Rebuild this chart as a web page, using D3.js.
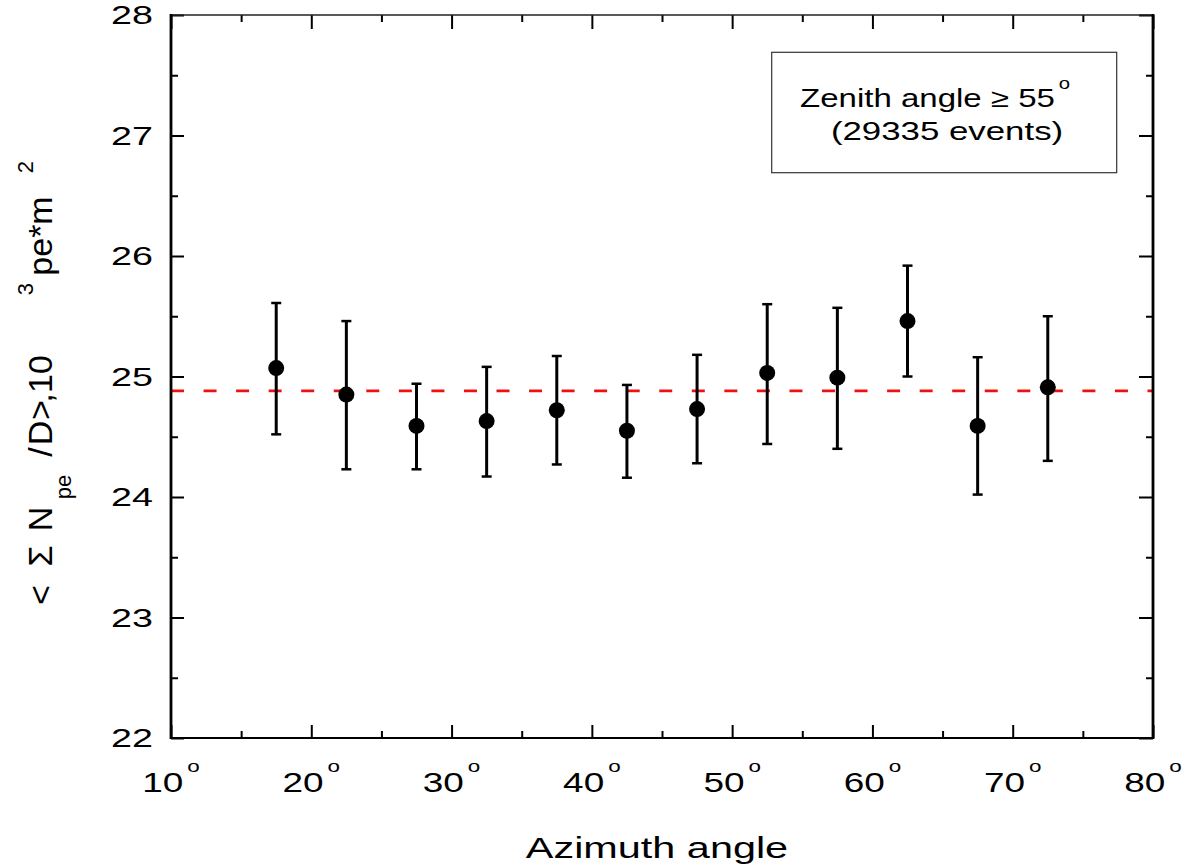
<!DOCTYPE html>
<html>
<head>
<meta charset="utf-8">
<script src="https://cdn.jsdelivr.net/npm/d3@7"></script>
<style>
html,body{margin:0;padding:0;background:#fff;}
svg{display:block;}
text{font-family:"Liberation Sans",Arial,sans-serif;fill:#000;}
</style>
</head>
<body>
<svg id="chart" width="1182" height="865"></svg>
<script>
// ---- data ----
const azimuth = [17.5, 22.5, 27.5, 32.5, 37.5, 42.5, 47.5, 52.5, 57.5, 62.5, 67.5, 72.5];
const meanValue = [25.07, 24.85, 24.59, 24.63, 24.72, 24.55, 24.73, 25.03, 24.99, 25.46, 24.59, 24.91];
const upperErr = [25.61, 25.46, 24.94, 25.08, 25.17, 24.93, 25.18, 25.60, 25.57, 25.92, 25.16, 25.50];
const lowerErr = [24.52, 24.23, 24.23, 24.17, 24.27, 24.16, 24.28, 24.44, 24.40, 25.00, 24.02, 24.30];
const averageLevel = 24.88;
const xTickValues = [10, 20, 30, 40, 50, 60, 70, 80];
const xMinorValues = [15, 25, 35, 45, 55, 65, 75];
const yTickValues = [22, 23, 24, 25, 26, 27, 28];
const yMinorValues = [22.5, 23.5, 24.5, 25.5, 26.5, 27.5];
const xTitle = "Azimuth angle";
const legendLines = ["Zenith angle \u2265 55", "(29335 events)"];

// ---- layout ----
const svg = d3.select("#chart");
const L = 171, R = 1153, T = 15, B = 738;
const x = d3.scaleLinear().domain([10, 80]).range([L, R]);
const y = d3.scaleLinear().domain([22, 28]).range([B, T]);

// red dashed average line
svg.append("line")
  .attr("x1", x(10)).attr("x2", x(80))
  .attr("y1", y(averageLevel)).attr("y2", y(averageLevel))
  .attr("stroke", "#ee1111").attr("stroke-width", 2.8)
  .attr("stroke-dasharray", "13,19.55");

// axes with inward ticks
function axisTicks(axisGen, transform, values, size) {
  const g = svg.append("g").attr("transform", transform)
    .call(axisGen.tickValues(values).tickSize(size).tickFormat(""));
  g.select(".domain").remove();
  g.selectAll(".tick line").attr("stroke", "#000").attr("stroke-width", 2);
  return g;
}
axisTicks(d3.axisTop(x), `translate(0,${B})`, xTickValues, 13);
axisTicks(d3.axisTop(x), `translate(0,${B})`, xMinorValues, 7);
axisTicks(d3.axisBottom(x), `translate(0,${T})`, xTickValues, 14);
axisTicks(d3.axisBottom(x), `translate(0,${T})`, xMinorValues, 7);
axisTicks(d3.axisRight(y), `translate(${L},0)`, yTickValues, 13);
axisTicks(d3.axisRight(y), `translate(${L},0)`, yMinorValues, 7);
axisTicks(d3.axisLeft(y), `translate(${R},0)`, yTickValues, 14);
axisTicks(d3.axisLeft(y), `translate(${R},0)`, yMinorValues, 7);

// frame
svg.append("line").attr("x1", L).attr("x2", R).attr("y1", T).attr("y2", T)
  .attr("stroke", "#222").attr("stroke-width", 1.4);
svg.append("line").attr("x1", L).attr("x2", R).attr("y1", B).attr("y2", B)
  .attr("stroke", "#000").attr("stroke-width", 2.2);
svg.append("line").attr("x1", L).attr("x2", L).attr("y1", T - 1).attr("y2", B + 1)
  .attr("stroke", "#000").attr("stroke-width", 2.8);
svg.append("line").attr("x1", R).attr("x2", R).attr("y1", T - 1).attr("y2", B + 1)
  .attr("stroke", "#000").attr("stroke-width", 2.8);

// y tick labels
svg.append("g").selectAll("text").data(yTickValues).join("text")
  .attr("transform", d => `translate(153,${y(d) + 9.3}) scale(1.45,1)`)
  .attr("text-anchor", "end").attr("font-size", 26)
  .text(d => d);

// x tick labels with degree sign
const xl = svg.append("g").selectAll("text").data(xTickValues).join("text")
  .attr("transform", d => `translate(${x(d)},791.5) scale(1.32,1)`)
  .attr("text-anchor", "middle").attr("font-size", 28);
xl.append("tspan").text(d => d);
xl.append("tspan").attr("font-size", 17).attr("dx", 3).attr("dy", -19.5).text("o");

// x title
svg.append("text")
  .attr("transform", `translate(${(L + R) / 2 - 5},858) scale(1.38,1)`)
  .attr("text-anchor", "middle").attr("font-size", 30)
  .text(xTitle);

// y title pieces (rotated)
const yPieces = [
  {t: "<", c: 595, fs: 34, b: 52},
  {t: "\u03A3", c: 556, fs: 34, b: 52},
  {t: "N", c: 519, fs: 34, b: 52},
  {t: "pe", c: 487, fs: 22, b: 71},
  {t: "/", c: 452, fs: 34, b: 52},
  {t: "D", c: 433, fs: 34, b: 52},
  {t: ">", c: 410, fs: 34, b: 52},
  {t: ",", c: 398, fs: 34, b: 52},
  {t: "10", c: 374, fs: 34, b: 52},
  {t: "3", c: 289, fs: 22, b: 33},
  {t: "pe*m", c: 236, fs: 34, b: 52},
  {t: "2", c: 167, fs: 22, b: 33}
];
svg.append("g").selectAll("text").data(yPieces).join("text")
  .attr("transform", d => `translate(${d.b},${d.c}) rotate(-90)`)
  .attr("text-anchor", "middle").attr("font-size", d => d.fs)
  .text(d => d.t);

// error bars
const pts = azimuth.map((a, i) => ({a, m: meanValue[i], hi: upperErr[i], lo: lowerErr[i]}));
const eb = svg.append("g");
eb.selectAll("line.v").data(pts).join("line").attr("class", "v")
  .attr("x1", d => x(d.a)).attr("x2", d => x(d.a))
  .attr("y1", d => y(d.hi)).attr("y2", d => y(d.lo))
  .attr("stroke", "#000").attr("stroke-width", 3);
eb.selectAll("line.cu").data(pts).join("line").attr("class", "cu")
  .attr("x1", d => x(d.a) - 5).attr("x2", d => x(d.a) + 5)
  .attr("y1", d => y(d.hi)).attr("y2", d => y(d.hi))
  .attr("stroke", "#000").attr("stroke-width", 2.5);
eb.selectAll("line.cl").data(pts).join("line").attr("class", "cl")
  .attr("x1", d => x(d.a) - 5).attr("x2", d => x(d.a) + 5)
  .attr("y1", d => y(d.lo)).attr("y2", d => y(d.lo))
  .attr("stroke", "#000").attr("stroke-width", 2.5);
eb.selectAll("circle").data(pts).join("circle")
  .attr("cx", d => x(d.a)).attr("cy", d => y(d.m)).attr("r", 8)
  .attr("fill", "#000");

// legend box
svg.append("rect").attr("x", 771.7).attr("y", 52.3)
  .attr("width", 345).attr("height", 120.4)
  .attr("fill", "#fff").attr("stroke", "#333").attr("stroke-width", 1.2);
const lg1 = svg.append("text")
  .attr("transform", `translate(935,106.5) scale(1.27,1)`)
  .attr("text-anchor", "middle").attr("font-size", 26);
lg1.append("tspan").text(legendLines[0]);
lg1.append("tspan").attr("font-size", 16).attr("dx", 3).attr("dy", -18).text("o");
svg.append("text")
  .attr("transform", `translate(947,140) scale(1.34,1)`)
  .attr("text-anchor", "middle").attr("font-size", 26)
  .text(legendLines[1]);
</script>
</body>
</html>
